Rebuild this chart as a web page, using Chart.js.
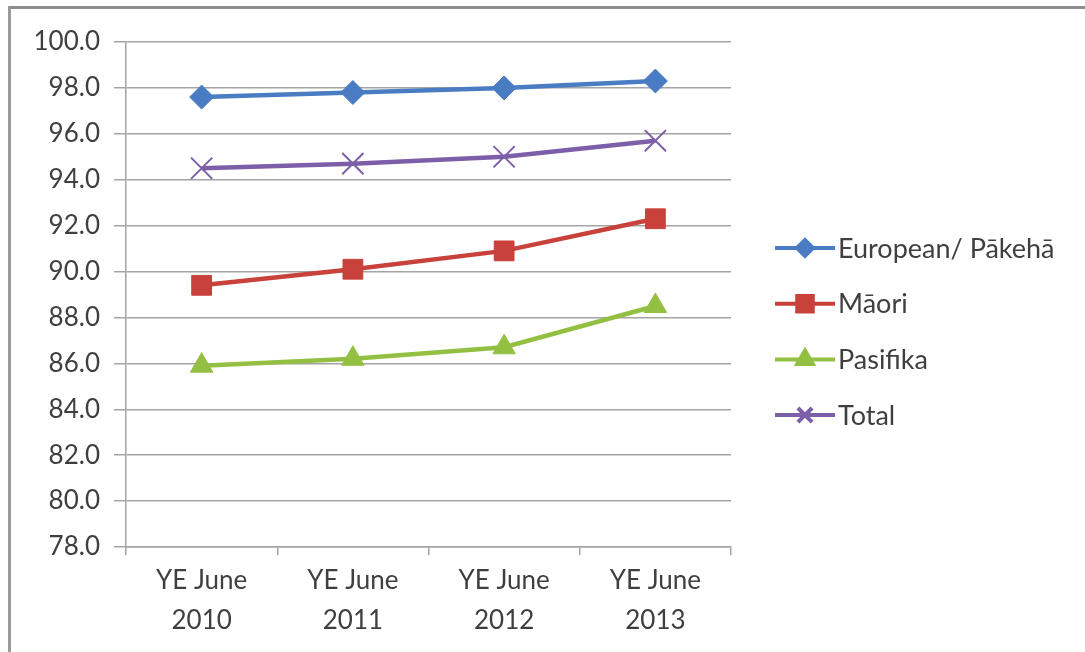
<!DOCTYPE html>
<html>
<head>
<meta charset="utf-8">
<script src="https://cdn.jsdelivr.net/npm/chart.js@4/dist/chart.umd.min.js"></script>
<style>
  html, body { margin: 0; padding: 0; background: #ffffff; overflow: hidden; }
  #frame {
    position: absolute; left: 8px; top: 6px; width: 2000px; height: 2000px;
    border-left: 3px solid #9a9a9a; border-top: 3px solid #8e8e8e;
  }
  #wrap { position: absolute; left: 0; top: 0; width: 1085px; height: 652px; }
</style>
</head>
<body>
<div id="frame"></div>
<div id="wrap"><canvas id="chart" width="1085" height="652"></canvas></div>
<script>
// Reporting periods (two-line labels)
const categories = [
  ['YE June', '2010'],
  ['YE June', '2011'],
  ['YE June', '2012'],
  ['YE June', '2013']
];

// Series values (%)
const seriesNames = ['European/ Pākehā', 'Māori', 'Pasifika', 'Total'];
const european = [97.6, 97.8, 98.0, 98.3];
const maori    = [89.4, 90.1, 90.9, 92.3];
const pasifika = [85.9, 86.2, 86.7, 88.5];
const total    = [94.5, 94.7, 95.0, 95.7];

// Value axis range
const yMin = 78;
const yMax = 100;
const yStep = 2;

const FONT = 'Lato, "Open Sans", sans-serif';
const TEXT = '#3f3f3f';
const GRID = '#a4a4a4';

const styles = [
  { color: '#4a7cc4', point: 'rectRot', radius: 12, legendRadius: 8 },
  { color: '#c8423b', point: 'rect',    radius: 14, legendRadius: 11 },
  { color: '#93c043', point: 'triangle', radius: 13, legendRadius: 9 },
  { color: '#7d5ea8', point: 'crossRot', radius: 15, legendRadius: 10 }
];

const values = [european, maori, pasifika, total];

const datasets = values.map((data, i) => ({
  label: seriesNames[i],
  data: data,
  borderColor: styles[i].color,
  backgroundColor: styles[i].color,
  borderWidth: 4.5,
  tension: 0,
  pointStyle: styles[i].point,
  pointRadius: styles[i].radius,
  pointHoverRadius: styles[i].radius,
  pointBorderColor: styles[i].color,
  pointBackgroundColor: styles[i].color,
  pointBorderWidth: styles[i].point === 'crossRot' ? 2 : 1
}));

// Legend on the right: short line with the series marker in the middle
const sideLegend = {
  id: 'sideLegend',
  afterDraw(chart) {
    const ctx = chart.ctx;
    const area = chart.chartArea;
    const x0 = area.right + 44;
    const lineLen = 60;
    const firstY = 248;
    const gap = 55.7;
    chart.data.datasets.forEach((ds, i) => {
      const y = firstY + i * gap;
      const st = styles[i];
      ctx.save();
      ctx.strokeStyle = st.color;
      ctx.fillStyle = st.color;
      ctx.lineWidth = 4;
      ctx.beginPath();
      ctx.moveTo(x0, y);
      ctx.lineTo(x0 + lineLen, y);
      ctx.stroke();
      Chart.helpers.drawPoint(ctx, {
        pointStyle: st.point,
        radius: st.legendRadius,
        rotation: 0,
        borderWidth: st.point === 'crossRot' ? 1.5 : 1
      }, x0 + lineLen / 2, y);
      if (st.point !== 'crossRot') ctx.fill();
      ctx.fillStyle = TEXT;
      ctx.font = '27px ' + FONT;
      ctx.textBaseline = 'middle';
      ctx.textAlign = 'left';
      ctx.fillText(ds.label, x0 + lineLen + 3, y + 1);
      ctx.restore();
    });
  }
};

new Chart(document.getElementById('chart'), {
  type: 'line',
  data: { labels: categories, datasets: datasets },
  options: {
    responsive: false,
    animation: false,
    devicePixelRatio: 1,
    layout: { padding: { top: 42, right: 354, left: 0, bottom: 0 } },
    plugins: { legend: { display: false }, tooltip: { enabled: false } },
    scales: {
      x: {
        offset: true,
        grid: { offset: true, drawOnChartArea: false, drawTicks: true, tickLength: 8, color: GRID, lineWidth: 1.5 },
        border: { display: true, color: GRID, width: 1.5 },
        ticks: { color: TEXT, font: { family: FONT, size: 26, lineHeight: 1.54 }, padding: 6, maxRotation: 0, autoSkip: false },
        afterFit(scale) { scale.height = 105; }
      },
      y: {
        min: yMin,
        max: yMax,
        ticks: {
          stepSize: yStep,
          color: TEXT,
          font: { family: FONT, size: 26 },
          padding: 14,
          callback: v => Number(v).toFixed(1)
        },
        grid: { color: GRID, lineWidth: 1.5, tickLength: 12 },
        border: { display: true, color: GRID, width: 1.5 },
        afterFit(scale) { scale.width = 126; }
      }
    }
  },
  plugins: [sideLegend]
});
</script>
</body>
</html>
